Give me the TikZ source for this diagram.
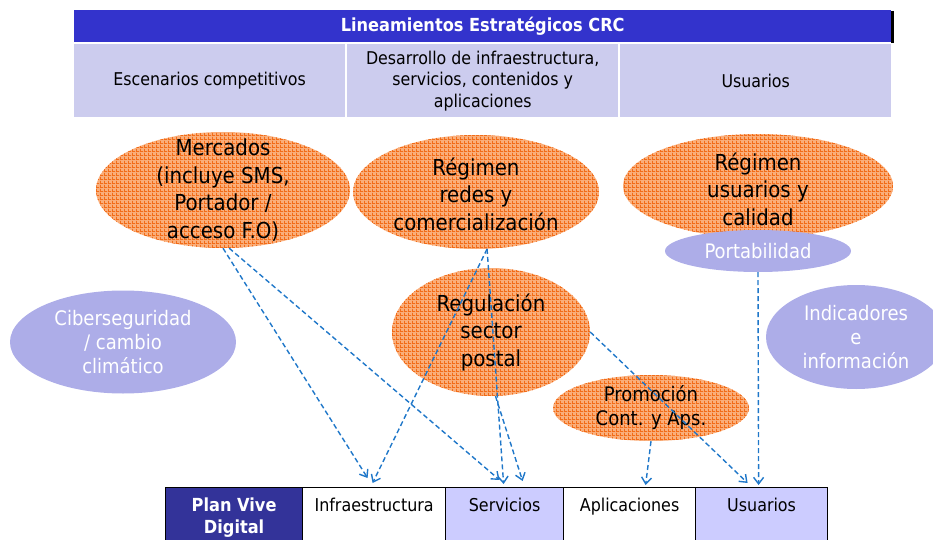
\documentclass[tikz,border=0pt]{standalone}
\usepackage{fontspec}
\setmainfont{DejaVu Sans Condensed}
\usetikzlibrary{arrows.meta,patterns,shapes.geometric}
\definecolor{hdrblue}{HTML}{3333CC}
\definecolor{rowlav}{HTML}{CCCCEE}
\definecolor{lav}{HTML}{ADADE8}
\definecolor{orfill}{HTML}{FAAE7A}
\definecolor{orline}{HTML}{F26C18}
\definecolor{arrblue}{HTML}{1F77C9}
\definecolor{navy}{HTML}{333399}
\definecolor{celllav}{HTML}{CCCCFF}
\pgfdeclarepatternformonly{ogrid}{\pgfqpoint{0pt}{0pt}}{\pgfqpoint{4pt}{4pt}}{\pgfqpoint{4pt}{4pt}}{%
  \pgfsetlinewidth{1pt}%
  \pgfpathmoveto{\pgfqpoint{0pt}{0.5pt}}\pgfpathlineto{\pgfqpoint{4pt}{0.5pt}}%
  \pgfpathmoveto{\pgfqpoint{0.5pt}{0pt}}\pgfpathlineto{\pgfqpoint{0.5pt}{4pt}}%
  \pgfusepath{stroke}}
\begin{document}
\begin{tikzpicture}[x=1pt,y=-1pt,
  orell/.style={ellipse, fill=orfill, postaction={pattern=ogrid, pattern color=orline}, inner sep=0pt},
  lavell/.style={ellipse, fill=lav, inner sep=0pt},
  bigtext/.style={align=center, inner sep=0pt, text=black, font=\fontsize{22}{27.5}\selectfont},
  lavtext/.style={align=center, inner sep=0pt, text=white, font=\fontsize{20}{24}\selectfont},
  rowcell/.style={fill=rowlav, anchor=north west, minimum width=271pt, minimum height=73pt, inner sep=0pt, align=center, font=\fontsize{17.6}{21.5}\selectfont},
  cell/.style={draw=black, line width=1.2pt, anchor=north west, minimum height=60pt, inner sep=0pt},
  ctext/.style={anchor=base, inner sep=0pt, font=\fontsize{17.7}{22}\selectfont},
  conn/.style={draw=arrblue, line width=1.4pt, dash pattern=on 5pt off 3pt, -{Straight Barb[length=6.5pt,width=10pt]}}
]
\useasboundingbox (0,0) rectangle (933,540);

% top table
\node[fill=hdrblue, anchor=north west, minimum width=817pt, minimum height=32pt, inner sep=0pt, text=white, font=\bfseries\fontsize{18}{20}\selectfont] (head) at (74,10) {Lineamientos Estratégicos CRC};
\draw[line width=2.5pt] ([xshift=1pt,yshift=-1pt]head.north east) -- ([xshift=1pt,yshift=-1pt]head.south east);
\node[rowcell] (esc) at (74,44) {Escenarios competitivos};
\node[rowcell] (desa) at (347,44) {Desarrollo de infraestructura,\\servicios, contenidos y\\aplicaciones};
\node[rowcell] (usr) at (620,44) {Usuarios};

% ellipses
\node[orell, minimum width=254pt, minimum height=116pt] (merc) at (223,190) {};
\node[bigtext] (merct) at (merc.center) {Mercados\\(incluye SMS,\\Portador /\\acceso F.O)};
\node[orell, minimum width=246pt, minimum height=114pt] (redes) at (476,192) {};
\node[bigtext] (redest) at ([yshift=-2pt]redes.center) {Régimen\\redes y\\comercialización};
\node[orell, minimum width=270pt, minimum height=104pt] (ruc) at (758,186) {};
\node[bigtext] (ruct) at ([yshift=-3pt]ruc.center) {Régimen\\usuarios y\\calidad};
\node[lavell, minimum width=186pt, minimum height=42pt] (porta) at (758,251) {};
\node[lavtext] (portat) at (porta.center) {Portabilidad};
\node[lavell, minimum width=180pt, minimum height=104pt] (indic) at (856,337) {};
\node[lavtext] (indict) at (indic.center) {Indicadores\\e\\información};
\node[lavell, minimum width=226pt, minimum height=103pt] (ciber) at (123,342) {};
\node[lavtext] (cibert) at (ciber.center) {Ciberseguridad\\/ cambio\\climático};
\node[orell, minimum width=198pt, minimum height=128pt] (reg) at (491,332) {};
\node[bigtext] (regt) at (reg.center) {Regulación\\sector\\postal};
\node[orell, minimum width=196pt, minimum height=66pt] (promo) at (651,408) {};
\node[bigtext, font=\fontsize{20}{24}\selectfont] (promot) at (promo.center) {Promoción\\Cont. y Aps.};

% bottom table
\node[cell, fill=navy, minimum width=137pt] (cplan) at (165,487) {};
\node[cell, fill=white, minimum width=143pt] (cinfra) at (302,487) {};
\node[cell, fill=celllav, minimum width=118pt] (cserv) at (445,487) {};
\node[cell, fill=white, minimum width=132pt] (capl) at (563,487) {};
\node[cell, fill=celllav, minimum width=132pt] (cusu) at (695,487) {};
\node[anchor=north, inner sep=0pt, align=center, text=white, font=\bfseries\fontsize{18}{22}\selectfont] (tplan) at ([yshift=-11pt]cplan.north) {Plan Vive\\Digital};
\node[ctext] (tinfra) at ([yshift=-24pt]cinfra.north) {Infraestructura};
\node[ctext] (tserv) at ([yshift=-24pt]cserv.north) {Servicios};
\node[ctext] (tapl) at ([yshift=-24pt]capl.north) {Aplicaciones};
\node[ctext] (tusu) at ([yshift=-24pt]cusu.north) {Usuarios};

% connectors
\draw[conn] (merc.-90) -- ([xshift=-6.5pt,yshift=9pt]cinfra.north);
\draw[conn] (merc.-84) -- ([xshift=-5pt,yshift=7pt]cserv.north);
\draw[conn] (redes.-79) -- ([xshift=-1.5pt,yshift=4pt]cinfra.north);
\draw[conn] (redes.-79) -- ([xshift=-1pt,yshift=3pt]cserv.north);
\draw[conn] (reg.-86) -- ([xshift=18pt,yshift=6pt]cserv.north);
\draw[conn] (reg.east) -- ([xshift=-14pt,yshift=4pt]cusu.north);
\draw[conn] (promo.south) -- ([xshift=16pt,yshift=2pt]capl.north);
\draw[conn] (porta.south) -- ([xshift=-3pt,yshift=2pt]cusu.north);
\end{tikzpicture}
\end{document}
